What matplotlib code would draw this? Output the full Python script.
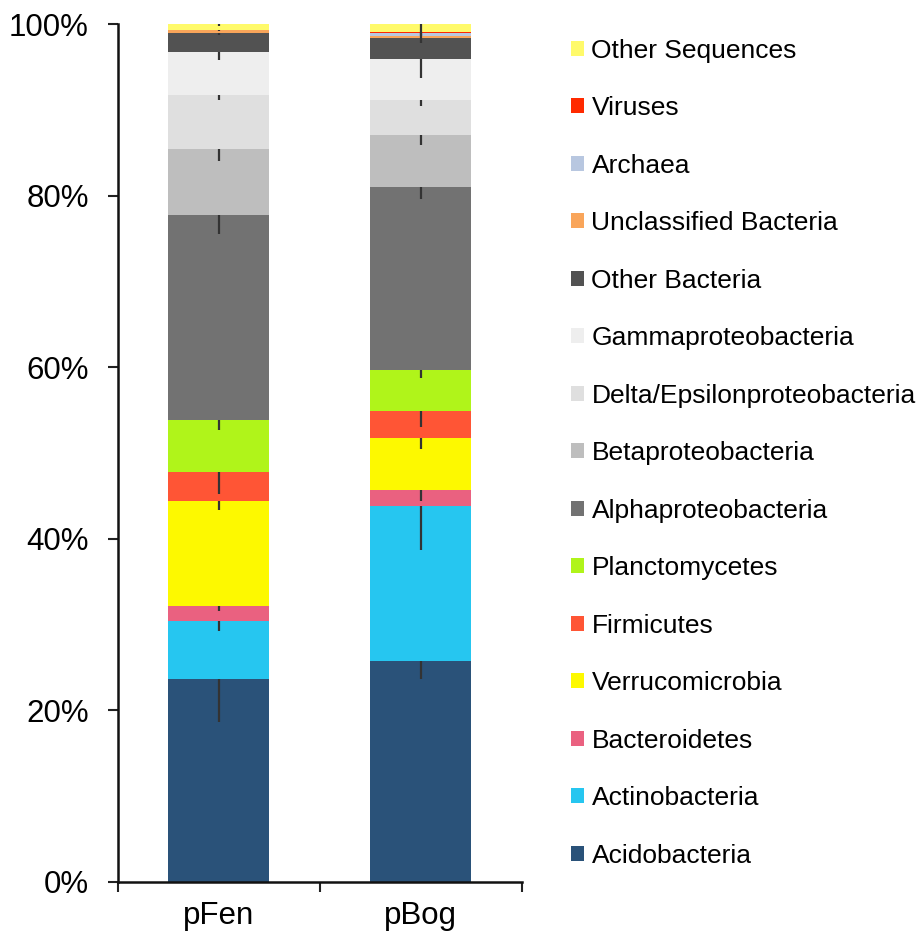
import numpy as np
import matplotlib
matplotlib.use("Agg")
import matplotlib.pyplot as plt
from matplotlib.patches import Patch

plt.rcParams['font.family'] = ['Liberation Sans', 'DejaVu Sans']

samples = ['pFen', 'pBog']

taxa = [
    'Acidobacteria', 'Actinobacteria', 'Bacteroidetes', 'Verrucomicrobia',
    'Firmicutes', 'Planctomycetes', 'Alphaproteobacteria', 'Betaproteobacteria',
    'Delta/Epsilonproteobacteria', 'Gammaproteobacteria', 'Other Bacteria',
    'Unclassified Bacteria', 'Archaea', 'Viruses', 'Other Sequences',
]

# relative abundance (%) per taxon, bottom to top of the stack
pfen_pct = [23.7, 6.7, 1.8, 12.2, 3.4, 6.0, 24.0, 7.6, 6.3, 5.1, 2.2, 0.25, 0.07, 0.03, 0.65]
pbog_pct = [25.8, 18.0, 1.9, 6.1, 3.1, 4.8, 21.3, 6.1, 4.1, 4.7, 2.45, 0.3, 0.28, 0.12, 0.95]

# standard deviation (%) per taxon
pfen_err = [5.1, 1.2, 0.6, 1.1, 2.6, 1.1, 2.3, 1.4, 0.5, 1.0, 0.3, 0.1, 0.05, 0.05, 0.2]
pbog_err = [2.1, 5.1, 1.3, 1.3, 1.9, 1.0, 1.4, 1.2, 0.8, 2.2, 0.55, 0.3, 0.3, 0.5, 1.0]

colors = [
    '#2a5279', '#26c6f0', '#ea6180', '#fdf900', '#ff5535', '#b0f41a',
    '#727272', '#bebebe', '#dfdfdf', '#eeeeee', '#525252', '#f9a55a',
    '#b8c7e0', '#ff2a00', '#fffa6a',
]

values = np.array([pfen_pct, pbog_pct]).T
errors = np.array([pfen_err, pbog_err]).T

fig = plt.figure(figsize=(9.23, 9.43), dpi=100)
ax = fig.add_axes([0.1278, 0.0647, 0.4377, 0.9098])

x = np.arange(len(samples))
bottom = np.zeros(len(samples))
for i, name in enumerate(taxa):
    ax.bar(x, values[i], 0.5, bottom=bottom, color=colors[i], label=name,
           linewidth=0, zorder=2)
    top = bottom + values[i]
    ax.errorbar(x, top, yerr=[errors[i], np.zeros(len(samples))], fmt='none',
                ecolor='#333333', elinewidth=1.6, capsize=0, zorder=3)
    bottom = top

ax.set_xlim(-0.5, 1.5)
ax.set_ylim(0, 100)
ax.set_yticks(np.arange(0, 101, 20))
ax.set_yticklabels([f'{v}%' for v in range(0, 101, 20)])
ax.set_xticks([-0.5, 0.5, 1.5])
ax.set_xticklabels([])
ax.set_xticks(x, minor=True)
ax.set_xticklabels(samples, minor=True)
ax.tick_params(axis='x', which='minor', length=0, pad=14, labelsize=22.5)
ax.tick_params(axis='x', which='major', direction='out', length=7, width=1.5,
               color='#222222')
ax.tick_params(axis='y', direction='out', length=7, width=1.5, color='#222222',
               pad=14, labelsize=22.5)

for side in ['top', 'right']:
    ax.spines[side].set_visible(False)
for side in ['left', 'bottom']:
    ax.spines[side].set_linewidth(1.8)
    ax.spines[side].set_color('#111111')

handles = [Patch(facecolor=c, edgecolor='none') for c in colors]
leg = fig.legend(handles[::-1], taxa[::-1], loc='upper left',
                 bbox_to_anchor=(0.6185, 0.959), frameon=False, fontsize=19,
                 handlelength=0.5, handleheight=0.5, handletextpad=0.28,
                 labelspacing=1.27, borderpad=0, borderaxespad=0)

fig.savefig('out.png', dpi=100)
